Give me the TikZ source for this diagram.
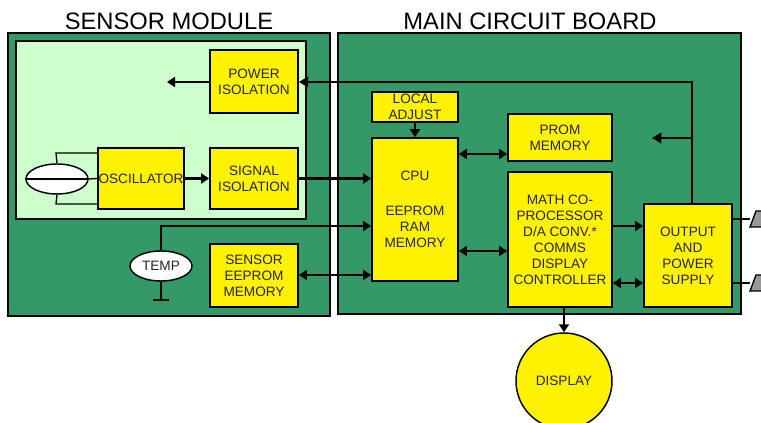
\documentclass[tikz,border=0pt]{standalone}
\usepackage{fontspec}
\setmainfont{Liberation Sans}
\usetikzlibrary{arrows.meta,shapes.geometric}
\definecolor{panel}{HTML}{339966}
\definecolor{lightp}{HTML}{CCFFCC}
\tikzset{
  x=0.75pt,y=-0.75pt,
  panelbox/.style={draw=black,line width=1.5pt,fill=panel},
  lightbox/.style={draw=black,line width=1.5pt,fill=lightp},
  ybox/.style={draw=black,line width=1.3pt,fill=yellow,inner sep=0pt,align=center,font=\fontsize{10.2}{12}\selectfont,text=black!85},
  oval/.style={ellipse,draw=black,line width=1.1pt,fill=white,inner sep=0pt,font=\fontsize{10.2}{12}\selectfont,text=black!85},
  title/.style={font=\fontsize{17.8}{20}\selectfont,text=black},
  bus/.style={line width=2.2pt,draw=black},
  thin wire/.style={line width=1pt,draw=black},
  oneway/.style={bus,-{Triangle[length=6pt,width=7.5pt]}},
  twoway/.style={bus,{Triangle[length=6pt,width=7.5pt]}-{Triangle[length=6pt,width=7.5pt]}},
}
\newcommand{\bx}[6]{\node[ybox,minimum width=#4*0.75pt-#2*0.75pt,minimum height=#5*0.75pt-#3*0.75pt] (#1) at ({(#2+#4)/2},{(#3+#5)/2}) {#6};}
\begin{document}
\begin{tikzpicture}
\useasboundingbox (0,0) rectangle (761,423);
\clip (0,0) rectangle (761,423);
\node[title] (t1) at (169,21) {SENSOR MODULE};
\node[title] (t2) at (530,21) {MAIN CIRCUIT BOARD};
\draw[panelbox] (8,33) rectangle (330,316);
\draw[panelbox] (338,33) rectangle (741,314);
\draw[lightbox] (16,41) rectangle (306,219);
\bx{pwr}{210}{50}{298}{113}{POWER\\ISOLATION}
\bx{osc}{98}{148}{184}{209}{OSCILLATOR}
\bx{sig}{210}{148}{298}{209}{SIGNAL\\ISOLATION}
\bx{see}{210}{244}{298}{307}{SENSOR\\EEPROM\\MEMORY}
\bx{adj}{372}{92}{458}{122}{LOCAL\\ADJUST}
\bx{cpu}{372}{138}{458}{281}{CPU\\[14.5pt]EEPROM\\RAM\\MEMORY}
\bx{prom}{508}{114}{612}{161}{PROM\\MEMORY}
\bx{math}{508}{172}{612}{307}{MATH CO-\\PROCESSOR\\D/A CONV.*\\COMMS\\DISPLAY\\CONTROLLER}
\bx{out}{644}{204}{732}{307}{OUTPUT\\AND\\POWER\\SUPPLY}
\node[oval,minimum width=72pt,minimum height=72pt,fill=yellow] (disp) at (564,381) {DISPLAY};
\node[oval,minimum width=46.5pt,minimum height=22.5pt] (temp) at (161,266) {TEMP};
\node[oval,minimum width=46.5pt,minimum height=22.5pt] (xtal) at (57,179) {};
% crystal
\draw[thin wire] (xtal.west) -- (xtal.east);
\draw[thin wire] (xtal.east) -- (osc.west);
\coordinate (xt) at (56,153); \coordinate (xb) at (56,204);
\draw[thin wire] (xtal.north) -- (xt) -- (xt -| osc.west);
\draw[thin wire] (xtal.south) -- (xb) -- (xb -| osc.west);
% temp ground
\coordinate (gnd) at (161,300);
\draw[thin wire] (temp.south) -- (gnd);
\coordinate (gl) at (153,300); \coordinate (gr) at (169,300);
\draw[thin wire] (gl) -- (gr);
% connectors
\coordinate (pl) at (167,82);
\draw[oneway] (pwr.west |- pl) -- (pl);
\draw[oneway] (osc.east) -- (sig.west);
\draw[oneway] (sig.east) -- (sig.east -| cpu.west);
\coordinate (tc) at (161,226);
\draw[oneway] (temp.north) -- (tc) -- (tc -| cpu.west);
\coordinate (y275) at (330,275);
\draw[twoway] (y275 -| see.east) -- (y275 -| cpu.west);
\draw[oneway] (adj.south) -- (cpu.north);
\coordinate (y154) at (480,154);
\draw[twoway] (y154 -| cpu.east) -- (y154 -| prom.west);
\coordinate (y251) at (480,251);
\draw[twoway] (y251 -| cpu.east) -- (y251 -| math.west);
\coordinate (y226) at (630,226);
\draw[oneway] (y226 -| math.east) -- (y226 -| out.west);
\coordinate (y283) at (630,283);
\draw[twoway] (y283 -| math.east) -- (y283 -| out.west);
\draw[oneway] (math.south -| disp.north) -- (disp.north);
\coordinate (up) at (692,82);
\coordinate (mid) at (692,138);
\coordinate (midl) at (652,138);
\draw[line width=1.5pt,-{Triangle[length=7pt,width=8pt]}] (up |- out.north) -- (up) -- (up -| pwr.east);
\draw[line width=1.5pt,-{Triangle[length=7pt,width=8pt]}] (mid) -- (midl);
% terminals
\coordinate (ta) at (750,219); \coordinate (tb) at (750,283);
\draw[thin wire] (ta -| out.east) -- (ta);
\draw[thin wire] (tb -| out.east) -- (tb);
\foreach \n/\y in {a/219,b/283}{
  \draw[fill=black!40,line width=1pt] (750,\y+8) -- (756,\y-8) -- (770,\y-8) -- (770,\y+8) -- cycle;
}
\end{tikzpicture}
\end{document}
